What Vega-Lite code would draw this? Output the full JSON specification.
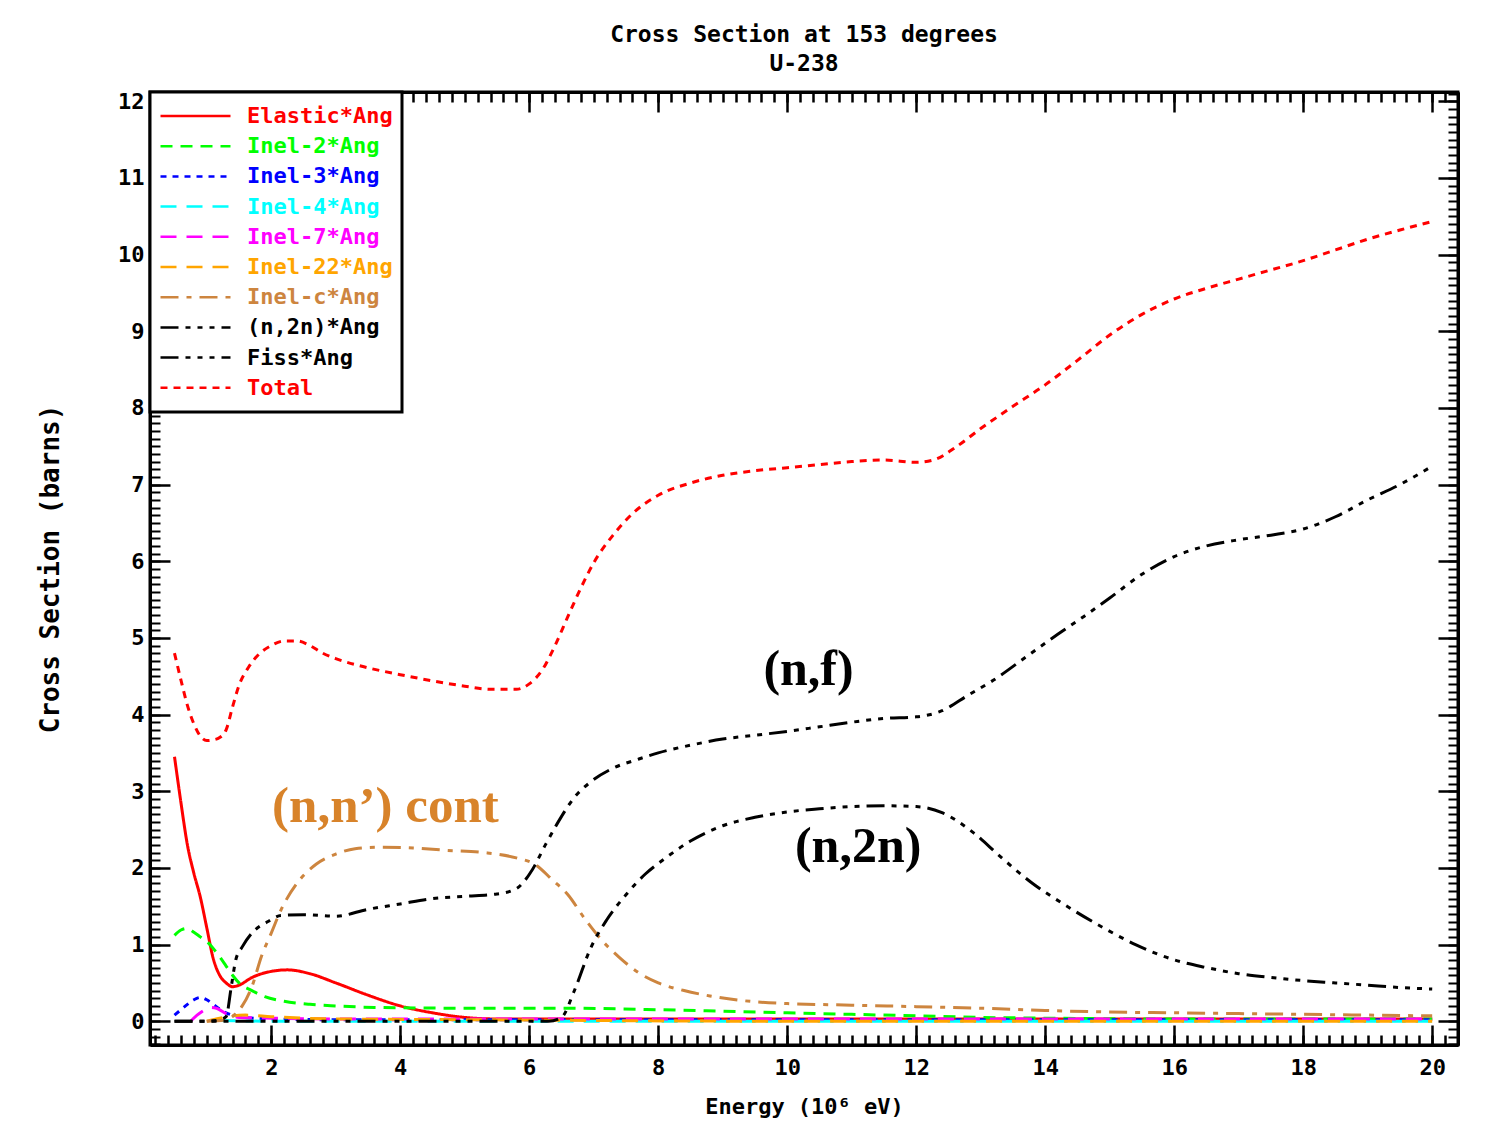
{
  "$schema": "https://vega.github.io/schema/vega-lite/v6.json",
  "autosize": {"type": "none"},
  "width": 1308,
  "height": 953,
  "padding": {"left": 150, "top": 92, "right": 37, "bottom": 86},
  "background": "white",
  "config": {
    "view": {"stroke": "black", "strokeWidth": 3},
    "axis": {"grid": false, "zindex": 1, "tickColor": "black", "domainColor": "black", "labelColor": "black", "titleColor": "black",
      "labelFont": "DejaVu Sans Mono", "labelFontWeight": "bold", "labelFontSize": 22,
      "titleFont": "DejaVu Sans Mono", "titleFontWeight": "bold", "titleFontSize": 22}
  },
  "title": {
    "text": ["Cross Section at 153 degrees", "U-238"],
    "font": "DejaVu Sans Mono", "fontWeight": "bold", "fontSize": 23, "lineHeight": 29,
    "anchor": "middle", "offset": 14, "color": "black"
  },
  "resolve": {"axis": {"x": "independent", "y": "independent"}},
  "layer": [
    {
      "data": {"values": [
        {"s":"Elastic*Ang","x":0.5,"y":3.45},{"s":"Elastic*Ang","x":0.6,"y":2.85},{"s":"Elastic*Ang","x":0.7,"y":2.3},{"s":"Elastic*Ang","x":0.8,"y":1.93},{"s":"Elastic*Ang","x":0.9,"y":1.62},{"s":"Elastic*Ang","x":1.0,"y":1.22},{"s":"Elastic*Ang","x":1.1,"y":0.82},{"s":"Elastic*Ang","x":1.2,"y":0.6},{"s":"Elastic*Ang","x":1.3,"y":0.5},{"s":"Elastic*Ang","x":1.4,"y":0.45},{"s":"Elastic*Ang","x":1.5,"y":0.47},{"s":"Elastic*Ang","x":1.7,"y":0.57},{"s":"Elastic*Ang","x":2.0,"y":0.65},{"s":"Elastic*Ang","x":2.25,"y":0.67},{"s":"Elastic*Ang","x":2.6,"y":0.62},{"s":"Elastic*Ang","x":3.0,"y":0.5},{"s":"Elastic*Ang","x":3.5,"y":0.34},{"s":"Elastic*Ang","x":4.0,"y":0.2},{"s":"Elastic*Ang","x":4.5,"y":0.11},{"s":"Elastic*Ang","x":5.0,"y":0.05},{"s":"Elastic*Ang","x":5.5,"y":0.03},{"s":"Elastic*Ang","x":7,"y":0.03},{"s":"Elastic*Ang","x":10,"y":0.03},{"s":"Elastic*Ang","x":13,"y":0.03},{"s":"Elastic*Ang","x":16,"y":0.03},{"s":"Elastic*Ang","x":20,"y":0.03},
        {"s":"Inel-2*Ang","x":0.5,"y":1.12},{"s":"Inel-2*Ang","x":0.6,"y":1.19},{"s":"Inel-2*Ang","x":0.7,"y":1.21},{"s":"Inel-2*Ang","x":0.8,"y":1.16},{"s":"Inel-2*Ang","x":0.9,"y":1.1},{"s":"Inel-2*Ang","x":1.0,"y":1.04},{"s":"Inel-2*Ang","x":1.1,"y":0.95},{"s":"Inel-2*Ang","x":1.2,"y":0.84},{"s":"Inel-2*Ang","x":1.3,"y":0.72},{"s":"Inel-2*Ang","x":1.4,"y":0.6},{"s":"Inel-2*Ang","x":1.5,"y":0.5},{"s":"Inel-2*Ang","x":1.7,"y":0.4},{"s":"Inel-2*Ang","x":1.9,"y":0.32},{"s":"Inel-2*Ang","x":2.2,"y":0.26},{"s":"Inel-2*Ang","x":2.6,"y":0.22},{"s":"Inel-2*Ang","x":3.0,"y":0.2},{"s":"Inel-2*Ang","x":3.6,"y":0.18},{"s":"Inel-2*Ang","x":5,"y":0.17},{"s":"Inel-2*Ang","x":6.5,"y":0.17},{"s":"Inel-2*Ang","x":8,"y":0.15},{"s":"Inel-2*Ang","x":9,"y":0.13},{"s":"Inel-2*Ang","x":10,"y":0.11},{"s":"Inel-2*Ang","x":11,"y":0.09},{"s":"Inel-2*Ang","x":12,"y":0.07},{"s":"Inel-2*Ang","x":13,"y":0.05},{"s":"Inel-2*Ang","x":14,"y":0.04},{"s":"Inel-2*Ang","x":16,"y":0.03},{"s":"Inel-2*Ang","x":20,"y":0.03},
        {"s":"Inel-3*Ang","x":0.5,"y":0.08},{"s":"Inel-3*Ang","x":0.6,"y":0.15},{"s":"Inel-3*Ang","x":0.7,"y":0.22},{"s":"Inel-3*Ang","x":0.8,"y":0.28},{"s":"Inel-3*Ang","x":0.9,"y":0.31},{"s":"Inel-3*Ang","x":1.0,"y":0.28},{"s":"Inel-3*Ang","x":1.1,"y":0.22},{"s":"Inel-3*Ang","x":1.2,"y":0.16},{"s":"Inel-3*Ang","x":1.3,"y":0.11},{"s":"Inel-3*Ang","x":1.4,"y":0.08},{"s":"Inel-3*Ang","x":1.6,"y":0.05},{"s":"Inel-3*Ang","x":2.0,"y":0.03},{"s":"Inel-3*Ang","x":3,"y":0.02},{"s":"Inel-3*Ang","x":10,"y":0.02},{"s":"Inel-3*Ang","x":20,"y":0.02},
        {"s":"Inel-4*Ang","x":1.2,"y":0.01},{"s":"Inel-4*Ang","x":2,"y":0.0},{"s":"Inel-4*Ang","x":10,"y":0.0},{"s":"Inel-4*Ang","x":20,"y":0.0},
        {"s":"Inel-7*Ang","x":0.75,"y":0.0},{"s":"Inel-7*Ang","x":0.85,"y":0.08},{"s":"Inel-7*Ang","x":0.95,"y":0.14},{"s":"Inel-7*Ang","x":1.05,"y":0.18},{"s":"Inel-7*Ang","x":1.15,"y":0.17},{"s":"Inel-7*Ang","x":1.3,"y":0.1},{"s":"Inel-7*Ang","x":1.5,"y":0.05},{"s":"Inel-7*Ang","x":2,"y":0.04},{"s":"Inel-7*Ang","x":3,"y":0.03},{"s":"Inel-7*Ang","x":10,"y":0.03},{"s":"Inel-7*Ang","x":20,"y":0.03},
        {"s":"Inel-22*Ang","x":1.0,"y":0.0},{"s":"Inel-22*Ang","x":1.2,"y":0.04},{"s":"Inel-22*Ang","x":1.4,"y":0.07},{"s":"Inel-22*Ang","x":1.6,"y":0.08},{"s":"Inel-22*Ang","x":2.0,"y":0.06},{"s":"Inel-22*Ang","x":2.5,"y":0.04},{"s":"Inel-22*Ang","x":3,"y":0.03},{"s":"Inel-22*Ang","x":5,"y":0.02},{"s":"Inel-22*Ang","x":10,"y":0.0},{"s":"Inel-22*Ang","x":20,"y":0.0},
        {"s":"Inel-c*Ang","x":1.0,"y":0.0},{"s":"Inel-c*Ang","x":1.3,"y":0.02},{"s":"Inel-c*Ang","x":1.45,"y":0.1},{"s":"Inel-c*Ang","x":1.55,"y":0.2},{"s":"Inel-c*Ang","x":1.7,"y":0.45},{"s":"Inel-c*Ang","x":1.85,"y":0.85},{"s":"Inel-c*Ang","x":2.0,"y":1.15},{"s":"Inel-c*Ang","x":2.15,"y":1.45},{"s":"Inel-c*Ang","x":2.4,"y":1.8},{"s":"Inel-c*Ang","x":2.7,"y":2.05},{"s":"Inel-c*Ang","x":3.0,"y":2.18},{"s":"Inel-c*Ang","x":3.3,"y":2.25},{"s":"Inel-c*Ang","x":3.7,"y":2.27},{"s":"Inel-c*Ang","x":4.2,"y":2.26},{"s":"Inel-c*Ang","x":4.7,"y":2.23},{"s":"Inel-c*Ang","x":5.3,"y":2.2},{"s":"Inel-c*Ang","x":5.8,"y":2.13},{"s":"Inel-c*Ang","x":6.1,"y":2.04},{"s":"Inel-c*Ang","x":6.35,"y":1.85},{"s":"Inel-c*Ang","x":6.6,"y":1.65},{"s":"Inel-c*Ang","x":6.85,"y":1.35},{"s":"Inel-c*Ang","x":7.1,"y":1.08},{"s":"Inel-c*Ang","x":7.4,"y":0.83},{"s":"Inel-c*Ang","x":7.7,"y":0.63},{"s":"Inel-c*Ang","x":8.0,"y":0.5},{"s":"Inel-c*Ang","x":8.4,"y":0.4},{"s":"Inel-c*Ang","x":8.8,"y":0.33},{"s":"Inel-c*Ang","x":9.3,"y":0.27},{"s":"Inel-c*Ang","x":10,"y":0.23},{"s":"Inel-c*Ang","x":11,"y":0.21},{"s":"Inel-c*Ang","x":12,"y":0.19},{"s":"Inel-c*Ang","x":13,"y":0.17},{"s":"Inel-c*Ang","x":14,"y":0.14},{"s":"Inel-c*Ang","x":15,"y":0.12},{"s":"Inel-c*Ang","x":16,"y":0.11},{"s":"Inel-c*Ang","x":17,"y":0.1},{"s":"Inel-c*Ang","x":18,"y":0.09},{"s":"Inel-c*Ang","x":19,"y":0.08},{"s":"Inel-c*Ang","x":20,"y":0.07},
        {"s":"(n,2n)*Ang","x":0.5,"y":0.0},{"s":"(n,2n)*Ang","x":3,"y":0.0},{"s":"(n,2n)*Ang","x":6.3,"y":0.0},{"s":"(n,2n)*Ang","x":6.5,"y":0.05},{"s":"(n,2n)*Ang","x":6.7,"y":0.4},{"s":"(n,2n)*Ang","x":6.95,"y":0.95},{"s":"(n,2n)*Ang","x":7.2,"y":1.32},{"s":"(n,2n)*Ang","x":7.5,"y":1.65},{"s":"(n,2n)*Ang","x":7.8,"y":1.92},{"s":"(n,2n)*Ang","x":8.1,"y":2.12},{"s":"(n,2n)*Ang","x":8.5,"y":2.35},{"s":"(n,2n)*Ang","x":9.0,"y":2.55},{"s":"(n,2n)*Ang","x":9.5,"y":2.66},{"s":"(n,2n)*Ang","x":10.0,"y":2.73},{"s":"(n,2n)*Ang","x":10.5,"y":2.77},{"s":"(n,2n)*Ang","x":11.0,"y":2.8},{"s":"(n,2n)*Ang","x":11.5,"y":2.81},{"s":"(n,2n)*Ang","x":12.0,"y":2.8},{"s":"(n,2n)*Ang","x":12.4,"y":2.72},{"s":"(n,2n)*Ang","x":12.9,"y":2.45},{"s":"(n,2n)*Ang","x":13.3,"y":2.15},{"s":"(n,2n)*Ang","x":13.8,"y":1.8},{"s":"(n,2n)*Ang","x":14.3,"y":1.52},{"s":"(n,2n)*Ang","x":14.9,"y":1.22},{"s":"(n,2n)*Ang","x":15.4,"y":1.0},{"s":"(n,2n)*Ang","x":16.0,"y":0.8},{"s":"(n,2n)*Ang","x":16.5,"y":0.7},{"s":"(n,2n)*Ang","x":17.0,"y":0.62},{"s":"(n,2n)*Ang","x":17.5,"y":0.57},{"s":"(n,2n)*Ang","x":18.0,"y":0.53},{"s":"(n,2n)*Ang","x":18.5,"y":0.5},{"s":"(n,2n)*Ang","x":19.0,"y":0.47},{"s":"(n,2n)*Ang","x":19.5,"y":0.44},{"s":"(n,2n)*Ang","x":20.0,"y":0.42},
        {"s":"Fiss*Ang","x":0.5,"y":0.0},{"s":"Fiss*Ang","x":1.0,"y":0.0},{"s":"Fiss*Ang","x":1.2,"y":0.02},{"s":"Fiss*Ang","x":1.3,"y":0.06},{"s":"Fiss*Ang","x":1.38,"y":0.45},{"s":"Fiss*Ang","x":1.45,"y":0.8},{"s":"Fiss*Ang","x":1.55,"y":0.97},{"s":"Fiss*Ang","x":1.7,"y":1.15},{"s":"Fiss*Ang","x":1.95,"y":1.3},{"s":"Fiss*Ang","x":2.15,"y":1.38},{"s":"Fiss*Ang","x":2.5,"y":1.39},{"s":"Fiss*Ang","x":3.0,"y":1.37},{"s":"Fiss*Ang","x":3.5,"y":1.46},{"s":"Fiss*Ang","x":4.0,"y":1.53},{"s":"Fiss*Ang","x":4.5,"y":1.6},{"s":"Fiss*Ang","x":5.0,"y":1.63},{"s":"Fiss*Ang","x":5.5,"y":1.66},{"s":"Fiss*Ang","x":5.8,"y":1.73},{"s":"Fiss*Ang","x":6.05,"y":1.98},{"s":"Fiss*Ang","x":6.25,"y":2.3},{"s":"Fiss*Ang","x":6.45,"y":2.6},{"s":"Fiss*Ang","x":6.7,"y":2.92},{"s":"Fiss*Ang","x":6.95,"y":3.12},{"s":"Fiss*Ang","x":7.3,"y":3.3},{"s":"Fiss*Ang","x":7.7,"y":3.42},{"s":"Fiss*Ang","x":8.0,"y":3.5},{"s":"Fiss*Ang","x":8.5,"y":3.6},{"s":"Fiss*Ang","x":9.0,"y":3.68},{"s":"Fiss*Ang","x":9.5,"y":3.73},{"s":"Fiss*Ang","x":10.0,"y":3.78},{"s":"Fiss*Ang","x":10.5,"y":3.84},{"s":"Fiss*Ang","x":11.0,"y":3.9},{"s":"Fiss*Ang","x":11.5,"y":3.95},{"s":"Fiss*Ang","x":12.0,"y":3.97},{"s":"Fiss*Ang","x":12.4,"y":4.05},{"s":"Fiss*Ang","x":12.8,"y":4.25},{"s":"Fiss*Ang","x":13.2,"y":4.45},{"s":"Fiss*Ang","x":13.7,"y":4.75},{"s":"Fiss*Ang","x":14.2,"y":5.05},{"s":"Fiss*Ang","x":14.6,"y":5.28},{"s":"Fiss*Ang","x":15.0,"y":5.52},{"s":"Fiss*Ang","x":15.5,"y":5.83},{"s":"Fiss*Ang","x":16.0,"y":6.06},{"s":"Fiss*Ang","x":16.5,"y":6.2},{"s":"Fiss*Ang","x":17.0,"y":6.28},{"s":"Fiss*Ang","x":17.5,"y":6.34},{"s":"Fiss*Ang","x":18.0,"y":6.42},{"s":"Fiss*Ang","x":18.5,"y":6.58},{"s":"Fiss*Ang","x":19.0,"y":6.8},{"s":"Fiss*Ang","x":19.5,"y":7.0},{"s":"Fiss*Ang","x":20.0,"y":7.24},
        {"s":"Total","x":0.5,"y":4.8},{"s":"Total","x":0.6,"y":4.45},{"s":"Total","x":0.7,"y":4.12},{"s":"Total","x":0.8,"y":3.88},{"s":"Total","x":0.9,"y":3.72},{"s":"Total","x":1.0,"y":3.66},{"s":"Total","x":1.1,"y":3.67},{"s":"Total","x":1.2,"y":3.7},{"s":"Total","x":1.3,"y":3.8},{"s":"Total","x":1.4,"y":4.1},{"s":"Total","x":1.5,"y":4.38},{"s":"Total","x":1.65,"y":4.62},{"s":"Total","x":1.8,"y":4.78},{"s":"Total","x":2.0,"y":4.9},{"s":"Total","x":2.2,"y":4.96},{"s":"Total","x":2.4,"y":4.96},{"s":"Total","x":2.6,"y":4.9},{"s":"Total","x":2.8,"y":4.8},{"s":"Total","x":3.0,"y":4.73},{"s":"Total","x":3.5,"y":4.61},{"s":"Total","x":4.0,"y":4.52},{"s":"Total","x":4.5,"y":4.44},{"s":"Total","x":5.0,"y":4.37},{"s":"Total","x":5.4,"y":4.33},{"s":"Total","x":5.8,"y":4.33},{"s":"Total","x":6.0,"y":4.4},{"s":"Total","x":6.2,"y":4.58},{"s":"Total","x":6.4,"y":4.9},{"s":"Total","x":6.6,"y":5.28},{"s":"Total","x":6.8,"y":5.65},{"s":"Total","x":7.0,"y":5.98},{"s":"Total","x":7.3,"y":6.34},{"s":"Total","x":7.6,"y":6.62},{"s":"Total","x":8.0,"y":6.86},{"s":"Total","x":8.5,"y":7.02},{"s":"Total","x":9.0,"y":7.12},{"s":"Total","x":9.5,"y":7.18},{"s":"Total","x":10.0,"y":7.22},{"s":"Total","x":10.5,"y":7.26},{"s":"Total","x":11.0,"y":7.3},{"s":"Total","x":11.5,"y":7.32},{"s":"Total","x":12.0,"y":7.29},{"s":"Total","x":12.3,"y":7.33},{"s":"Total","x":12.6,"y":7.48},{"s":"Total","x":13.0,"y":7.73},{"s":"Total","x":13.5,"y":8.02},{"s":"Total","x":14.0,"y":8.3},{"s":"Total","x":14.5,"y":8.62},{"s":"Total","x":15.0,"y":8.95},{"s":"Total","x":15.5,"y":9.22},{"s":"Total","x":16.0,"y":9.42},{"s":"Total","x":16.5,"y":9.56},{"s":"Total","x":17.0,"y":9.68},{"s":"Total","x":17.5,"y":9.8},{"s":"Total","x":18.0,"y":9.92},{"s":"Total","x":18.5,"y":10.06},{"s":"Total","x":19.0,"y":10.2},{"s":"Total","x":19.5,"y":10.32},{"s":"Total","x":20.0,"y":10.43}
      ]},
      "mark": {"type": "line", "strokeWidth": 3, "interpolate": "monotone"},
      "encoding": {
        "x": {"field": "x", "type": "quantitative", "scale": {"domain": [0.12, 20.4], "nice": false, "zero": false},
          "axis": {"orient": "bottom", "values": [2,4,6,8,10,12,14,16,18,20], "tickSize": -20, "tickWidth": 2.5, "domainWidth": 3, "labelPadding": 32, "labelFlush": false, "labelOverlap": false, "title": "Energy (10⁶ eV)", "titlePadding": 18}},
        "y": {"field": "y", "type": "quantitative", "scale": {"domain": [-0.31, 12.12], "nice": false, "zero": false},
          "axis": {"orient": "left", "values": [0,1,2,3,4,5,6,7,8,9,10,11,12], "tickSize": -20, "tickWidth": 2.5, "domainWidth": 3, "labelPadding": 26, "labelFlush": false, "labelOverlap": false, "title": "Cross Section (barns)", "titleFontSize": 26, "titlePadding": 54}},
        "color": {"field": "s", "type": "nominal",
          "scale": {"domain": ["Elastic*Ang","Inel-2*Ang","Inel-3*Ang","Inel-4*Ang","Inel-7*Ang","Inel-22*Ang","Inel-c*Ang","(n,2n)*Ang","Fiss*Ang","Total"],
            "range": ["#FF0000","#00FF00","#0000FF","#00FFFF","#FF00FF","#FFA500","#CD853F","#000000","#000000","#FF0000"]},
          "legend": {"title": null, "orient": "top-left", "offset": 0, "padding": 9, "fillColor": "white", "strokeColor": "black",
            "symbolType": "stroke", "symbolSize": 4900, "symbolStrokeWidth": 2.5, "symbolOffset": 0, "clipHeight": 30, "rowPadding": 0.2,
            "labelFont": "DejaVu Sans Mono", "labelFontWeight": "bold", "labelFontSize": 22, "labelOffset": 15, "labelLimit": 400,
            "encode": {"labels": {"update": {"fill": {"scale": "color", "field": "value"}}}, "legend": {"update": {"strokeWidth": {"value": 3}}}}}},
        "strokeDash": {"field": "s", "type": "nominal",
          "scale": {"domain": ["Elastic*Ang","Inel-2*Ang","Inel-3*Ang","Inel-4*Ang","Inel-7*Ang","Inel-22*Ang","Inel-c*Ang","(n,2n)*Ang","Fiss*Ang","Total"],
            "range": [[1,0],[12,8],[6,6],[16,10],[16,10],[16,10],[18,8,5,8],[18,7,5,7,5,7,5,7],[18,7,5,7,5,7,5,7],[7,6]]},
          "legend": {"title": null}}
      }
    },
    {
      "data": {"values": [{"t": "(n,f)", "x": 10.33, "y": 4.58}, {"t": "(n,2n)", "x": 11.1, "y": 2.27}]},
      "mark": {"type": "text", "font": "Liberation Serif", "fontWeight": "bold", "fontSize": 50, "color": "black", "baseline": "middle", "align": "center"},
      "encoding": {
        "x": {"field": "x", "type": "quantitative", "scale": {"domain": [0.12, 20.4], "nice": false, "zero": false},
          "axis": {"orient": "bottom", "tickCount": 101, "labels": false, "title": null, "domain": false, "tickSize": -10, "tickWidth": 2.5}},
        "y": {"field": "y", "type": "quantitative", "scale": {"domain": [-0.31, 12.12], "nice": false, "zero": false},
          "axis": {"orient": "left", "tickCount": 124, "labels": false, "title": null, "domain": false, "tickSize": -10, "tickWidth": 2}},
        "text": {"field": "t"}
      }
    },
    {
      "data": {"values": [{"t": "(n,n’) cont", "x": 3.77, "y": 2.8}]},
      "mark": {"type": "text", "font": "Liberation Serif", "fontWeight": "bold", "fontSize": 51, "color": "#D8832A", "baseline": "middle", "align": "center"},
      "encoding": {
        "x": {"field": "x", "type": "quantitative", "scale": {"domain": [0.12, 20.4], "nice": false, "zero": false},
          "axis": {"orient": "top", "values": [2,4,6,8,10,12,14,16,18,20], "labels": false, "title": null, "domainWidth": 3, "tickSize": -20, "tickWidth": 2.5}},
        "y": {"field": "y", "type": "quantitative", "scale": {"domain": [-0.31, 12.12], "nice": false, "zero": false},
          "axis": {"orient": "right", "values": [0,1,2,3,4,5,6,7,8,9,10,11,12], "labels": false, "title": null, "domainWidth": 3, "tickSize": -20, "tickWidth": 2.5}},
        "text": {"field": "t"}
      }
    },
    {
      "data": {"values": [{"x": 10, "y": 6}]},
      "mark": {"type": "point", "opacity": 0, "size": 1},
      "encoding": {
        "x": {"field": "x", "type": "quantitative", "scale": {"domain": [0.12, 20.4], "nice": false, "zero": false},
          "axis": {"orient": "top", "tickCount": 101, "labels": false, "title": null, "domain": false, "tickSize": -10, "tickWidth": 2.5}},
        "y": {"field": "y", "type": "quantitative", "scale": {"domain": [-0.31, 12.12], "nice": false, "zero": false},
          "axis": {"orient": "right", "tickCount": 124, "labels": false, "title": null, "domain": false, "tickSize": -10, "tickWidth": 2}}
      }
    }
  ]
}
